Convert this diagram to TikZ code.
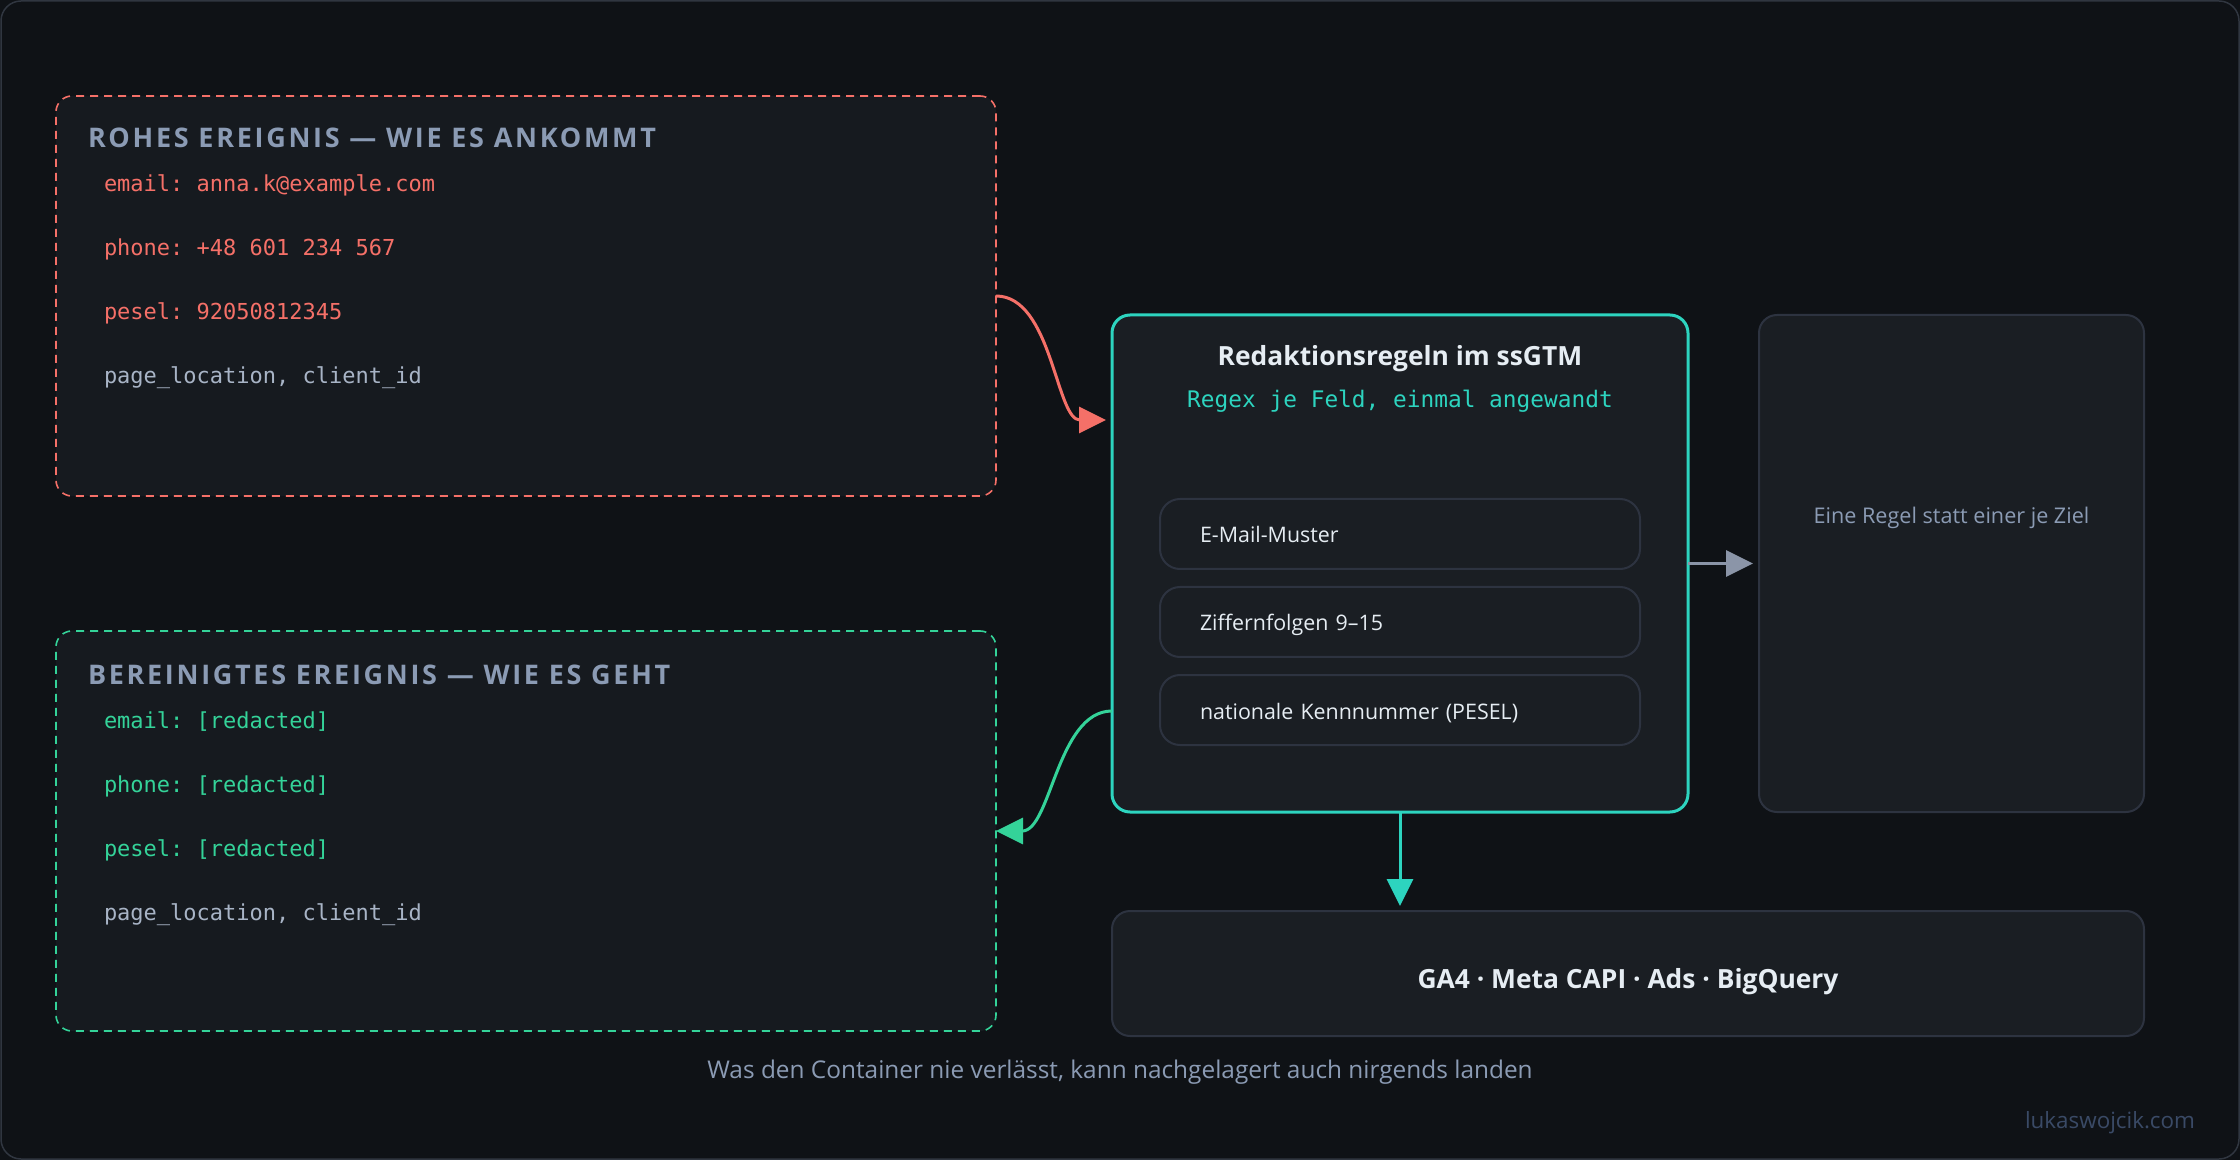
\documentclass[tikz,border=0pt]{standalone}
\usepackage{fontspec}
\setmainfont{Open Sans}
\setmonofont{DejaVu Sans Mono}
\newfontfamily\capsfont[LetterSpace=10]{Open Sans}
\usetikzlibrary{arrows.meta,calc}
\definecolor{rxBack}{RGB}{15,18,22}
\definecolor{rxFrame}{RGB}{48,54,64}
\definecolor{rxPanel}{RGB}{22,26,31}
\definecolor{rxCard}{RGB}{26,30,35}
\definecolor{rxEdge}{RGB}{45,51,64}
\definecolor{rxRed}{RGB}{245,112,104}
\definecolor{rxGreen}{RGB}{52,211,153}
\definecolor{rxTeal}{RGB}{45,212,191}
\definecolor{rxSlate}{RGB}{139,155,180}
\definecolor{rxPale}{RGB}{168,180,198}
\definecolor{rxWhite}{RGB}{230,237,243}
\definecolor{rxMark}{RGB}{58,74,102}
\definecolor{rxArrow}{RGB}{139,149,168}
\tikzset{
    base/.style={inner sep=0pt, outer sep=0pt},
    eventbox/.style={base, rectangle, rounded corners=8pt, dash pattern=on 4pt off 3pt,
                     line width=0.8pt, fill=rxPanel, minimum width=470pt, minimum height=200pt},
    rawbox/.style={eventbox, draw=rxRed},
    cleanbox/.style={eventbox, draw=rxGreen},
    card/.style={base, rectangle, rounded corners=9pt, draw=rxEdge, line width=1pt, fill=rxCard},
    rulebox/.style={card, rounded corners=10pt, minimum width=240pt, minimum height=35pt,
                    text width=200pt, inner xsep=20pt, align=left, text height=9pt, text depth=0pt,
                    font=\fontsize{10.7}{12}\selectfont, text=rxWhite},
    heading/.style={base, anchor=base west, font=\capsfont\bfseries\fontsize{13.5}{16}\selectfont, text=rxSlate},
    field/.style={base, anchor=base west, font=\ttfamily\fontsize{11}{13}\selectfont},
    note/.style={base, anchor=base, font=\fontsize{10.8}{12}\selectfont, text=rxSlate},
    flow/.style={-{Triangle[length=13.5pt,width=13pt]}, line width=1.5pt}
}
\begin{document}
\begin{tikzpicture}[x=0.5pt, y=-0.5pt]
  \useasboundingbox (0,0) rectangle (2240,1160);
  \fill[rxBack] (0,0) rectangle (2240,1160);
  \draw[rxFrame, line width=0.75pt, fill=rxBack, rounded corners=10pt] (1,1) rectangle (2239,1159);

  % incoming event
  \node[rawbox] (raw) at (526,296) {};
  \node[heading] (rawtitle) at (88,148) {ROHES EREIGNIS — WIE ES ANKOMMT};
  \node[field, text=rxRed] (rawemail) at (104,192) {email: anna.k@example.com};
  \node[field, text=rxRed] (rawphone) at (104,256) {phone: +48 601 234 567};
  \node[field, text=rxRed] (rawpesel) at (104,320) {pesel: 92050812345};
  \node[field, text=rxPale] (rawrest) at (104,384) {page\_location, client\_id};

  % outgoing event
  \node[cleanbox] (clean) at (526,831) {};
  \node[heading] (cleantitle) at (88,684) {BEREINIGTES EREIGNIS — WIE ES GEHT};
  \node[field, text=rxGreen] (cleanemail) at (104,728) {email: [redacted]};
  \node[field, text=rxGreen] (cleanphone) at (104,792) {phone: [redacted]};
  \node[field, text=rxGreen] (cleanpesel) at (104,856) {pesel: [redacted]};
  \node[field, text=rxPale] (cleanrest) at (104,920) {page\_location, client\_id};

  % rules in the container
  \node[card, draw=rxTeal, line width=1.5pt, minimum width=288pt, minimum height=248.5pt] (mid) at (1400,563.5) {};
  \node[base, anchor=base, font=\bfseries\fontsize{13.2}{15}\selectfont, text=rxWhite] (midtitle) at (1400,366) {Redaktionsregeln im ssGTM};
  \node[base, anchor=base, font=\ttfamily\fontsize{11.4}{13}\selectfont, text=rxTeal] (midsub) at (1400,408) {Regex je Feld, einmal angewandt};
  \node[rulebox] (ruleone) at (1400,534) {E-Mail-Muster};
  \node[rulebox] (ruletwo) at (1400,622) {Ziffernfolgen 9–15};
  \node[rulebox] (rulethree) at (1400,710) {nationale Kennnummer (PESEL)};

  \node[card, minimum width=192.5pt, minimum height=248.5pt] (right) at (1951.5,563.5) {};
  \node[note] (righttext) at (1951.5,524) {Eine Regel statt einer je Ziel};

  \node[card, minimum width=516pt, minimum height=62.5pt] (ga) at (1628,973.5) {};
  \node[base, anchor=base, font=\bfseries\fontsize{13.2}{15}\selectfont, text=rxWhite] (gatext) at (1628,988) {GA4 · Meta CAPI · Ads · BigQuery};

  \node[note, font=\fontsize{12.2}{14}\selectfont] (footer) at (1120,1078) {Was den Container nie verlässt, kann nachgelagert auch nirgends landen};
  \node[base, anchor=base east, font=\fontsize{11.2}{13}\selectfont, text=rxMark] (mark) at (2195,1128) {lukaswojcik.com};

  \coordinate (redin) at ($(mid.north west)+(-6,105)$);
  \coordinate (greenout) at ($(mid.north west)+(0,396)$);
  \draw[flow, rxRed] (raw.east) .. controls ($(raw.east)+(56,0)$) and ($(redin)+(-50,0)$) .. (redin);
  \draw[flow, rxGreen] (greenout) .. controls ($(greenout)+(-55,0)$) and ($(clean.east)+(55,0)$) .. (clean.east);
  \draw[flow, rxArrow] (mid.east) -- ($(right.west)+(-6,0)$);
  \draw[flow, rxTeal] (mid.south) -- ($(mid.south |- ga.north)+(0,-5)$);
\end{tikzpicture}
\end{document}
